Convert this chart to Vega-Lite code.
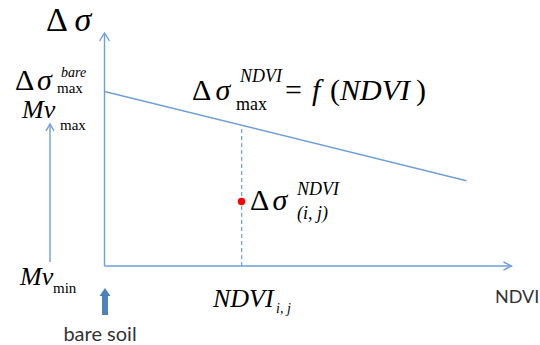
{
  "$schema": "https://vega.github.io/schema/vega-lite/v6.json",
  "width": 540,
  "height": 345,
  "autosize": {"type": "none"},
  "padding": 0,
  "background": "white",
  "config": {"view": {"stroke": null}, "text": {"font": "Liberation Serif", "align": "left", "baseline": "alphabetic", "color": "#000"}},
  "datasets": {
    "solid": [
      {"g": "yaxis", "o": 0, "x": 0, "y": 0},
      {"g": "yaxis", "o": 1, "x": 0, "y": 2.33},
      {"g": "yhead", "o": 0, "x": -0.05, "y": 2.25},
      {"g": "yhead", "o": 1, "x": 0, "y": 2.33},
      {"g": "yhead", "o": 2, "x": 0.05, "y": 2.25},
      {"g": "xaxis", "o": 0, "x": 0, "y": 0},
      {"g": "xaxis", "o": 1, "x": 4.07, "y": 0},
      {"g": "xhead", "o": 0, "x": 3.99, "y": 0.04},
      {"g": "xhead", "o": 1, "x": 4.07, "y": 0},
      {"g": "xhead", "o": 2, "x": 3.99, "y": -0.04},
      {"g": "fmax", "o": 0, "x": 0, "y": 1.745},
      {"g": "fmax", "o": 1, "x": 3.62, "y": 0.853},
      {"g": "mv", "o": 0, "x": -0.545, "y": 0.04},
      {"g": "mv", "o": 1, "x": -0.545, "y": 1.42},
      {"g": "mvhead", "o": 0, "x": -0.585, "y": 1.35},
      {"g": "mvhead", "o": 1, "x": -0.545, "y": 1.42},
      {"g": "mvhead", "o": 2, "x": -0.505, "y": 1.35}
    ],
    "dashed": [
      {"g": "drop", "o": 0, "x": 1.372, "y": 0},
      {"g": "drop", "o": 1, "x": 1.372, "y": 1.40}
    ],
    "shaft": [
      {"g": "bare", "o": 0, "x": 0.005, "y": -0.49},
      {"g": "bare", "o": 1, "x": 0.005, "y": -0.29}
    ],
    "head": [{"x": 0.005, "y": -0.26}],
    "dot": [{"x": 1.37, "y": 0.645}],
    "up34": [{"t": "Δ", "x": -0.585, "y": 2.35}],
    "it34": [{"t": "σ", "x": -0.30, "y": 2.35}],
    "up30": [
      {"t": "Δ", "x": -0.895, "y": 1.76},
      {"t": "Δ", "x": 0.875, "y": 1.66},
      {"t": "=", "x": 1.805, "y": 1.66},
      {"t": "(", "x": 2.255, "y": 1.66},
      {"t": ")", "x": 3.115, "y": 1.66},
      {"t": "Δ", "x": 1.455, "y": 0.56}
    ],
    "it30": [
      {"t": "σ", "x": -0.675, "y": 1.76},
      {"t": "σ", "x": 1.11, "y": 1.66},
      {"t": "f", "x": 2.075, "y": 1.66},
      {"t": "NDVI", "x": 2.355, "y": 1.66},
      {"t": "σ", "x": 1.68, "y": 0.56}
    ],
    "it26": [
      {"t": "Mv", "x": -0.825, "y": 1.48},
      {"t": "Mv", "x": -0.845, "y": -0.19},
      {"t": "NDVI", "x": 1.085, "y": -0.41}
    ],
    "up15": [
      {"t": "max", "x": -0.475, "y": 1.73},
      {"t": "max", "x": -0.445, "y": 1.36},
      {"t": "min", "x": -0.515, "y": -0.27}
    ],
    "it14": [
      {"t": "bare", "x": -0.435, "y": 1.89},
      {"t": "i, j", "x": 1.715, "y": -0.47}
    ],
    "up18": [
      {"t": "max", "x": 1.315, "y": 1.56}
    ],
    "it18": [
      {"t": "NDVI", "x": 1.355, "y": 1.84},
      {"t": "NDVI", "x": 1.925, "y": 0.71},
      {"t": "(i, j)", "x": 1.925, "y": 0.47}
    ],
    "sansSmall": [{"t": "bare soil", "x": -0.045, "y": -0.75}],
    "sansBig": [{"t": "NDVI", "x": 3.905, "y": -0.37}]
  },
  "encoding": {
    "x": {"field": "x", "type": "quantitative", "axis": null, "scale": {"domain": [-1.045, 4.355], "nice": false, "zero": false}},
    "y": {"field": "y", "type": "quantitative", "axis": null, "scale": {"domain": [-0.79, 2.66], "nice": false, "zero": false}}
  },
  "layer": [
    {
      "data": {"name": "solid"},
      "mark": {"type": "line", "color": "#6e9fd8", "strokeWidth": 1.4},
      "encoding": {"detail": {"field": "g"}, "order": {"field": "o"}}
    },
    {
      "data": {"name": "dashed"},
      "mark": {"type": "line", "color": "#6e9fd8", "strokeWidth": 1.2, "strokeDash": [4, 3]},
      "encoding": {"detail": {"field": "g"}, "order": {"field": "o"}}
    },
    {
      "data": {"name": "shaft"},
      "mark": {"type": "line", "color": "#4f81bd", "strokeWidth": 6, "strokeCap": "butt"},
      "encoding": {"detail": {"field": "g"}, "order": {"field": "o"}}
    },
    {
      "data": {"name": "head"},
      "mark": {"type": "point", "shape": "M-1,0.727L0,-0.727L1,0.727Z", "filled": true, "color": "#4f81bd", "opacity": 1, "size": 121}
    },
    {
      "data": {"name": "dot"},
      "mark": {"type": "point", "shape": "circle", "filled": true, "color": "#ff0000", "opacity": 1, "size": 55}
    },
    {"data": {"name": "up34"}, "mark": {"type": "text", "fontSize": 34}, "encoding": {"text": {"field": "t"}}},
    {"data": {"name": "it34"}, "mark": {"type": "text", "fontSize": 34, "fontStyle": "italic"}, "encoding": {"text": {"field": "t"}}},
    {"data": {"name": "up30"}, "mark": {"type": "text", "fontSize": 30}, "encoding": {"text": {"field": "t"}}},
    {"data": {"name": "it30"}, "mark": {"type": "text", "fontSize": 30, "fontStyle": "italic"}, "encoding": {"text": {"field": "t"}}},
    {"data": {"name": "it26"}, "mark": {"type": "text", "fontSize": 26, "fontStyle": "italic"}, "encoding": {"text": {"field": "t"}}},
    {"data": {"name": "up15"}, "mark": {"type": "text", "fontSize": 15}, "encoding": {"text": {"field": "t"}}},
    {"data": {"name": "it14"}, "mark": {"type": "text", "fontSize": 14, "fontStyle": "italic"}, "encoding": {"text": {"field": "t"}}},
    {"data": {"name": "up18"}, "mark": {"type": "text", "fontSize": 18}, "encoding": {"text": {"field": "t"}}},
    {"data": {"name": "it18"}, "mark": {"type": "text", "fontSize": 18, "fontStyle": "italic"}, "encoding": {"text": {"field": "t"}}},
    {
      "data": {"name": "sansSmall"},
      "mark": {"type": "text", "font": "Lato", "fontSize": 20, "align": "center", "color": "#333"},
      "encoding": {"text": {"field": "t"}}
    },
    {
      "data": {"name": "sansBig"},
      "mark": {"type": "text", "font": "Lato", "fontSize": 18, "color": "#333"},
      "encoding": {"text": {"field": "t"}}
    }
  ]
}
